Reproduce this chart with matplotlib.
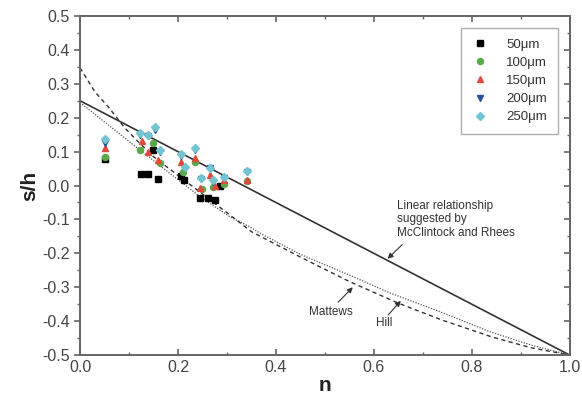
import matplotlib
matplotlib.use("Agg")
import matplotlib.pyplot as plt
from matplotlib.ticker import MultipleLocator

plt.rcParams['font.family'] = ['Liberation Sans', 'DejaVu Sans']

# measured pile-up / sink-in for each indentation depth
n_50 = [0.050, 0.124, 0.138, 0.149, 0.160, 0.207, 0.212, 0.245, 0.262, 0.276, 0.286]
sh_50 = [0.077, 0.033, 0.033, 0.105, 0.020, 0.027, 0.017, -0.038, -0.038, -0.042, 0.000]

n_100 = [0.050, 0.122, 0.150, 0.163, 0.210, 0.235, 0.250, 0.272, 0.293, 0.340]
sh_100 = [0.083, 0.105, 0.125, 0.065, 0.040, 0.070, -0.010, -0.005, 0.006, 0.012]

n_150 = [0.050, 0.126, 0.139, 0.160, 0.207, 0.235, 0.245, 0.265, 0.275, 0.293, 0.340]
sh_150 = [0.110, 0.130, 0.100, 0.075, 0.070, 0.080, -0.008, 0.030, 0.000, 0.015, 0.016]

n_200 = [0.050, 0.122, 0.139, 0.153, 0.163, 0.207, 0.235, 0.248, 0.265, 0.272, 0.293, 0.340]
sh_200 = [0.125, 0.150, 0.145, 0.165, 0.100, 0.088, 0.105, 0.018, 0.052, 0.010, 0.022, 0.040]

n_250 = [0.050, 0.122, 0.139, 0.153, 0.163, 0.207, 0.214, 0.235, 0.248, 0.265, 0.272, 0.293, 0.340]
sh_250 = [0.136, 0.156, 0.149, 0.172, 0.105, 0.093, 0.054, 0.110, 0.021, 0.051, 0.016, 0.026, 0.044]

# model curves
n_linear = [0.0, 1.0]
sh_linear = [0.25, -0.5]

n_hill = [0.0, 0.122, 0.245, 0.306, 0.347, 0.367, 0.45, 0.55, 0.635, 0.735, 0.837, 0.92, 1.0]
sh_hill = [0.245, 0.105, -0.033, -0.092, -0.122, -0.140, -0.203, -0.264, -0.318, -0.372, -0.431, -0.47, -0.5]

n_mattews = [0.0, 0.03, 0.06, 0.09, 0.112, 0.15, 0.2, 0.25, 0.3, 0.35, 0.45, 0.55, 0.65, 0.74, 0.84, 0.92, 1.0]
sh_mattews = [0.347, 0.277, 0.228, 0.172, 0.139, 0.085, 0.03, -0.025, -0.08, -0.136, -0.211, -0.283, -0.347, -0.397, -0.446, -0.478, -0.5]

fig = plt.figure(figsize=(5.82, 3.99), dpi=100)
ax = fig.add_axes([0.1375, 0.110, 0.8415, 0.850])

ax.plot(n_linear, sh_linear, color='#333333', lw=1.2, zorder=2)
ax.plot(n_hill, sh_hill, color='#555555', lw=0.9, ls=(0, (1, 1.2)), zorder=2)
ax.plot(n_mattews, sh_mattews, color='#333333', lw=1.0, ls=(0, (3, 2.5)), zorder=2)

ms = 4.4
ax.plot(n_50, sh_50, 's', color='black', ms=ms, label='50μm', zorder=3)
ax.plot(n_100, sh_100, 'o', color='#5aaa4a', ms=ms, label='100μm', zorder=3)
ax.plot(n_150, sh_150, '^', color='#e04a3a', ms=ms, label='150μm', zorder=3)
ax.plot(n_200, sh_200, 'v', color='#2a4f9f', ms=ms, label='200μm', zorder=3)
ax.plot(n_250, sh_250, 'D', color='#72c4d0', ms=ms, label='250μm', zorder=3)

ax.set_xlim(0, 1.0)
ax.set_ylim(-0.5, 0.5)
ax.xaxis.set_major_locator(MultipleLocator(0.2))
ax.xaxis.set_minor_locator(MultipleLocator(0.1))
ax.yaxis.set_major_locator(MultipleLocator(0.1))
ax.yaxis.set_minor_locator(MultipleLocator(0.05))
ax.set_xticklabels([f'{v:.1f}' for v in ax.get_xticks()])
ax.set_yticklabels([f'{v:.1f}' for v in ax.get_yticks()])

for s in ax.spines.values():
    s.set_color('#666666')
    s.set_linewidth(1.4)
ax.tick_params(which='both', top=True, right=True, colors='#666666',
               labelcolor='#444444', labelsize=11.5)
ax.tick_params(axis='x', which='both', direction='in')
ax.tick_params(axis='y', which='both', direction='out')
ax.tick_params(which='major', length=4, width=1.2)
ax.tick_params(which='minor', length=2.5, width=1.0)
ax.tick_params(axis='y', which='both', right=False)
ax2 = ax.secondary_yaxis('right')
ax2.yaxis.set_major_locator(MultipleLocator(0.1))
ax2.yaxis.set_minor_locator(MultipleLocator(0.05))
ax2.tick_params(which='both', direction='in', colors='#666666', labelright=False)
ax2.tick_params(which='major', length=4, width=1.2)
ax2.tick_params(which='minor', length=2.5, width=1.0)
ax2.spines['right'].set_color('#666666')
ax2.spines['right'].set_linewidth(1.4)

ax.set_xlabel('n', fontsize=15, fontweight='bold', color='#222222', labelpad=1)
ax.set_ylabel('s/h', fontsize=15, fontweight='bold', color='#222222', labelpad=2)

leg = ax.legend(loc='upper right', bbox_to_anchor=(0.975, 0.965), borderaxespad=0,
                fancybox=False, edgecolor='#999999', fontsize=9.5, numpoints=1,
                markerscale=1.0, handlelength=1.2, handletextpad=1.4,
                labelspacing=0.45, borderpad=0.8)
leg.get_frame().set_linewidth(1.0)
for t in leg.get_texts():
    t.set_color('#333333')

# labels for the model curves, each with a short pointer arrow
arrow = dict(arrowstyle='-|>', color='#333333', lw=0.8, mutation_scale=8,
             shrinkA=0, shrinkB=0)
ax.text(0.647, -0.10, 'Linear relationship\nsuggested by\nMcClintock and Rhees',
        fontsize=8.5, color='#333333', ha='left', va='center', linespacing=1.2)
ax.annotate('', xy=(0.628, -0.216), xytext=(0.658, -0.174), arrowprops=arrow)

ax.text(0.512, -0.373, 'Mattews', fontsize=8.5, color='#333333', ha='center', va='center')
ax.annotate('', xy=(0.557, -0.300), xytext=(0.527, -0.344), arrowprops=arrow)

ax.text(0.622, -0.406, 'Hill', fontsize=8.5, color='#333333', ha='center', va='center')
ax.annotate('', xy=(0.655, -0.340), xytext=(0.629, -0.382), arrowprops=arrow)

fig.savefig('out.png', dpi=100)
